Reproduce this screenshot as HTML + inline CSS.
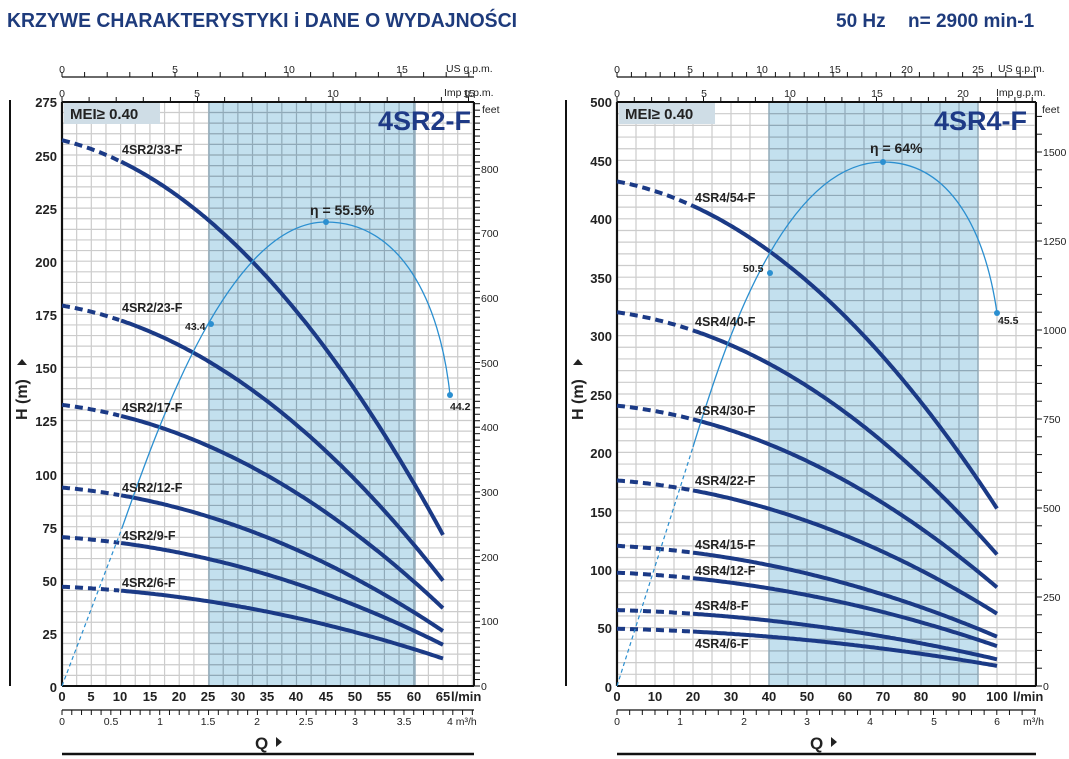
<!DOCTYPE html>
<html><head><meta charset="utf-8"><style>
body{margin:0;background:#fff;}
svg{display:block;font-family:"Liberation Sans",sans-serif;}
.lab{font-weight:bold;font-size:12.5px;fill:#222;}
.ax{font-weight:bold;font-size:13px;fill:#222;}
.sm{font-size:10.5px;fill:#222;}
</style></head><body>
<svg id="s" width="1069" height="759" viewBox="0 0 1069 759" xmlns="http://www.w3.org/2000/svg">
<g id="bg"></g>
<text x="7" y="27" font-size="20" font-weight="bold" fill="#1e3b7c" textLength="510" lengthAdjust="spacingAndGlyphs">KRZYWE CHARAKTERYSTYKI i DANE O WYDAJNOŚCI</text>
<text x="836" y="27" font-size="19" font-weight="bold" fill="#1e3b7c">50 Hz</text>
<text x="908" y="27" font-size="19" font-weight="bold" fill="#1e3b7c">n= 2900 min-1</text>

<!-- LEFT CHART TEXT -->
<rect x="64" y="103" width="96" height="21" fill="#cfdde6"/>
<text x="70" y="119" font-size="15" font-weight="bold" fill="#222">MEI≥ 0.40</text>
<text x="378" y="130" font-size="27" font-weight="bold" fill="#1e3a86">4SR2-F</text>
<g class="ax" text-anchor="end">
<text x="57" y="107">275</text><text x="57" y="161">250</text><text x="57" y="214">225</text><text x="57" y="267">200</text><text x="57" y="320">175</text><text x="57" y="373">150</text><text x="57" y="426">125</text><text x="57" y="480">100</text><text x="57" y="533">75</text><text x="57" y="586">50</text><text x="57" y="639">25</text><text x="57" y="692">0</text>
</g>
<g class="ax" text-anchor="middle">
<text x="62" y="701">0</text><text x="91" y="701">5</text><text x="120" y="701">10</text><text x="150" y="701">15</text><text x="179" y="701">20</text><text x="208" y="701">25</text><text x="238" y="701">30</text><text x="267" y="701">35</text><text x="296" y="701">40</text><text x="326" y="701">45</text><text x="355" y="701">50</text><text x="384" y="701">55</text><text x="414" y="701">60</text><text x="443" y="701">65</text>
</g>
<text x="451" y="701" class="ax">l/min</text>
<g class="sm" text-anchor="middle">
<text x="62" y="725">0</text><text x="111" y="725">0.5</text><text x="160" y="725">1</text><text x="208" y="725">1.5</text><text x="257" y="725">2</text><text x="306" y="725">2.5</text><text x="355" y="725">3</text><text x="404" y="725">3.5</text>
</g>
<text x="447" y="725" class="sm">4  m³/h</text>
<g class="sm" text-anchor="middle">
<text x="62" y="73">0</text><text x="175" y="73">5</text><text x="289" y="73">10</text><text x="402" y="73">15</text>
<text x="62" y="97">0</text><text x="197" y="97">5</text><text x="333" y="97">10</text><text x="469" y="97">15</text>
</g>
<text x="446" y="72" class="sm">US g.p.m.</text>
<text x="444" y="96" class="sm">Imp g.p.m.</text>
<text x="482" y="113" class="sm">feet</text>
<g class="sm">
<text x="481" y="690">0</text><text x="481" y="625">100</text><text x="481" y="561">200</text><text x="481" y="496">300</text><text x="481" y="431">400</text><text x="481" y="367">500</text><text x="481" y="302">600</text><text x="481" y="237">700</text><text x="481" y="173">800</text>
</g>
<g class="lab">
<text x="122" y="154">4SR2/33-F</text><text x="122" y="312">4SR2/23-F</text><text x="122" y="412">4SR2/17-F</text><text x="122" y="492">4SR2/12-F</text><text x="122" y="540">4SR2/9-F</text><text x="122" y="587">4SR2/6-F</text>
</g>
<text x="310" y="215" font-size="14" font-weight="bold" fill="#222">η = 55.5%</text>
<text x="185" y="330" font-size="10.5" font-weight="bold" fill="#222">43.4</text>
<text x="450" y="410" font-size="10.5" font-weight="bold" fill="#222">44.2</text>
<text x="255" y="749" font-size="17" font-weight="bold" fill="#222">Q</text>
<path d="M276,737 l6,5 l-6,5z" fill="#222"/>
<text transform="translate(27,420) rotate(-90)" font-size="16" font-weight="bold" fill="#222">H  (m)</text>
<path d="M17,365 l5,-6 l5,6z" fill="#222"/>

<!-- RIGHT CHART TEXT -->
<rect x="619" y="103" width="96" height="21" fill="#cfdde6"/>
<text x="625" y="119" font-size="15" font-weight="bold" fill="#222">MEI≥ 0.40</text>
<text x="934" y="130" font-size="27" font-weight="bold" fill="#1e3a86">4SR4-F</text>
<g class="ax" text-anchor="end">
<text x="612" y="107">500</text><text x="612" y="166">450</text><text x="612" y="224">400</text><text x="612" y="283">350</text><text x="612" y="341">300</text><text x="612" y="400">250</text><text x="612" y="458">200</text><text x="612" y="517">150</text><text x="612" y="575">100</text><text x="612" y="633">50</text><text x="612" y="692">0</text>
</g>
<g class="ax" text-anchor="middle">
<text x="617" y="701">0</text><text x="655" y="701">10</text><text x="693" y="701">20</text><text x="731" y="701">30</text><text x="769" y="701">40</text><text x="807" y="701">50</text><text x="845" y="701">60</text><text x="883" y="701">70</text><text x="921" y="701">80</text><text x="959" y="701">90</text><text x="997" y="701">100</text>
</g>
<text x="1013" y="701" class="ax">l/min</text>
<g class="sm" text-anchor="middle">
<text x="617" y="725">0</text><text x="680" y="725">1</text><text x="744" y="725">2</text><text x="807" y="725">3</text><text x="870" y="725">4</text><text x="934" y="725">5</text><text x="997" y="725">6</text>
</g>
<text x="1023" y="725" class="sm">m³/h</text>
<g class="sm" text-anchor="middle">
<text x="617" y="73">0</text><text x="690" y="73">5</text><text x="762" y="73">10</text><text x="835" y="73">15</text><text x="907" y="73">20</text><text x="978" y="73">25</text>
<text x="617" y="97">0</text><text x="704" y="97">5</text><text x="790" y="97">10</text><text x="877" y="97">15</text><text x="963" y="97">20</text>
</g>
<text x="998" y="72" class="sm">US g.p.m.</text>
<text x="996" y="96" class="sm">Imp g.p.m.</text>
<text x="1042" y="113" class="sm">feet</text>
<g class="sm">
<text x="1043" y="690">0</text><text x="1043" y="601">250</text><text x="1043" y="512">500</text><text x="1043" y="423">750</text><text x="1043" y="334">1000</text><text x="1043" y="245">1250</text><text x="1043" y="156">1500</text>
</g>
<g class="lab">
<text x="695" y="202">4SR4/54-F</text><text x="695" y="326">4SR4/40-F</text><text x="695" y="415">4SR4/30-F</text><text x="695" y="485">4SR4/22-F</text><text x="695" y="549">4SR4/15-F</text><text x="695" y="575">4SR4/12-F</text><text x="695" y="610">4SR4/8-F</text><text x="695" y="648">4SR4/6-F</text>
</g>
<text x="870" y="153" font-size="14" font-weight="bold" fill="#222">η = 64%</text>
<text x="743" y="272" font-size="10.5" font-weight="bold" fill="#222">50.5</text>
<text x="998" y="324" font-size="10.5" font-weight="bold" fill="#222">45.5</text>
<text x="810" y="749" font-size="17" font-weight="bold" fill="#222">Q</text>
<path d="M831,737 l6,5 l-6,5z" fill="#222"/>
<text transform="translate(583,420) rotate(-90)" font-size="16" font-weight="bold" fill="#222">H  (m)</text>
<path d="M573,365 l5,-6 l5,6z" fill="#222"/>
</svg>
<script>
const NS="http://www.w3.org/2000/svg",bg=document.getElementById('bg');
function el(t,a){const e=document.createElementNS(NS,t);for(const k in a)e.setAttribute(k,a[k]);bg.appendChild(e);return e;}
function L(x1,y1,x2,y2,c,w,d){const a={x1,y1,x2,y2,stroke:c,'stroke-width':w};if(d)a['stroke-dasharray']=d;return el('line',a);}
function chart(o){
 const {x0,x1,y0,y1,sx1,sx2,gx,gy}=o;
 el('rect',{x:sx1,y:y1,width:sx2-sx1,height:y0-y1,fill:'#c3e0ee'});
 for(let x=x0;x<=x1+0.5;x+=gx){const s=(x>sx1+1&&x<sx2-1);L(x,y1,x,y0,s?'#8fa9b8':'#cccccc',1.2);}
 for(let y=y0;y>=y1-0.5;y-=gy){L(x0,y,x1,y,'#cccccc',1.2);L(sx1,y,sx2,y,'#8fa9b8',1.2);}
 L(sx1,y1,sx1,y0,'#8fa9b8',1.4);L(sx2,y1,sx2,y0,'#8fa9b8',1.4);
 L(x0,y1,x1,y1,'#111',2);L(x0,y0,x1,y0,'#111',2);L(x0,y1,x0,y0,'#111',2.2);L(x1,y1,x1,y0,'#111',2);
 L(x0,77,x1,77,'#111',1.3);
 for(let x=x0;x<=x1;x+=o.us)L(x,77,x,72,'#111',1);
 for(let x=x0;x<=x1;x+=o.imp)L(x,102,x,97,'#111',1);
 L(x0,710,x1,710,'#111',1.3);
 for(let x=x0;x<=x1;x+=o.m3)L(x,710,x,715,'#111',1);
 for(let y=y0;y>=y1;y-=o.ft)L(x1,y,x1+6,y,'#111',1);
 L(x0,754,x1,754,'#111',2.5);
 L(o.lx,100,o.lx,686,'#111',2);
}
chart({x0:62,x1:474,y0:686,y1:102,sx1:209,sx2:415,gx:14.655,gy:10.62,us:22.6,imp:27.1,m3:9.77,ft:6.47,lx:10});
chart({x0:617,x1:1036,y0:686,y1:102,sx1:769,sx2:978,gx:19,gy:11.68,us:14.4,imp:17.3,m3:12.66,ft:17.8,lx:566});
const C='#1b3a86';
function curve(X,Y,q0,qs,qe,qmax,H0,b,c,k){
 let d1='',d2='';
 for(let q=0;q<=qe+0.001;q+=qmax/200){const h=k*(H0-b*q-c*q*q);const p=(X(q)).toFixed(1)+','+Y(h).toFixed(1);
  if(q<=qs+0.01)d1+=(d1?'L':'M')+p;if(q>=qs-0.01)d2+=(d2?'L':'M')+p;}
 el('path',{d:d1,fill:'none',stroke:C,'stroke-width':4,'stroke-dasharray':'8,5'});
 el('path',{d:d2,fill:'none',stroke:C,'stroke-width':4});
}
const XL=q=>62+q*5.862,YL=h=>686-h*2.1236;
[33,23,17,12,9,6].forEach(s=>curve(XL,YL,0,10,65,65,257,0.662,0.0338,s/33));
const XR=q=>617+q*3.8,YR=h=>686-h*1.168;
[[54,432],[40,320],[30,240],[22,176],[15,120],[12,97],[8,65],[6,49]].forEach(([s,h])=>curve(XR,YR,0,20,100,100,432,0.6125,0.021875,h/432));
const E='#2b8fd0';
L(62,686,122,528,E,1.2,'4,3');
el('path',{d:'M122,528 C160,420 230,222 326,222 C400,222 440,300 450,395',fill:'none',stroke:E,'stroke-width':1.3});
L(617,686,693,447,E,1.2,'4,3');
el('path',{d:'M693,447 C720,360 780,162 883,162 C950,162 985,230 997,313',fill:'none',stroke:E,'stroke-width':1.3});
[[211,324],[326,222],[450,395],[770,273],[883,162],[997,313]].forEach(([x,y])=>el('circle',{cx:x,cy:y,r:3,fill:E}));
</script>
</body></html>
